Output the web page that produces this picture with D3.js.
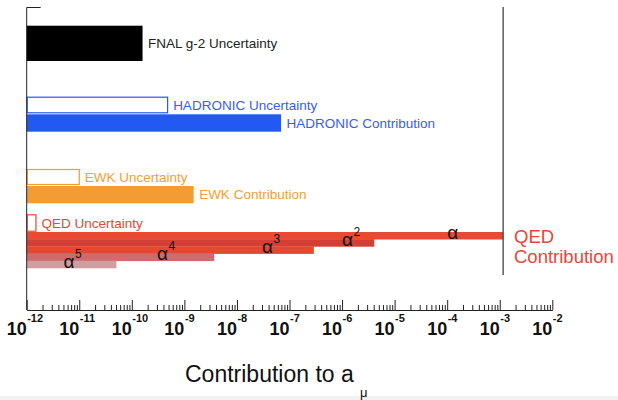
<!DOCTYPE html>
<html>
<head>
<meta charset="utf-8">
<script src="https://cdn.jsdelivr.net/npm/d3@7"></script>
<style>
  html, body { margin: 0; padding: 0; background: #fff; }
  svg { display: block; }
  text { font-family: "Liberation Sans", Arial, Helvetica, sans-serif; }
</style>
</head>
<body>
<div id="chart"></div>
<script>
// Contributions to the muon anomalous magnetic moment (log scale)
const uncertaintyNames = ["FNAL g-2 Uncertainty", "HADRONIC Uncertainty", "EWK Uncertainty", "QED Uncertainty"];
const uncertaintyValues = [1.6e-10, 4.8e-10, 1.0e-11, 1.5e-12];

const contributionNames = ["HADRONIC Contribution", "EWK Contribution"];
const contributionValues = [6.9e-8, 1.5e-9];

// QED perturbative orders alpha^1 .. alpha^5
const qedOrders = [1, 2, 3, 4, 5];
const qedValues = [1.16e-3, 4.1e-6, 2.9e-7, 3.7e-9, 5.1e-11];
const qedLabelAt = [1e-4, 1e-6, 3e-8, 3e-10, 5e-12];

const tickExponents = [-12, -11, -10, -9, -8, -7, -6, -5, -4, -3, -2];

const W = 618, H = 400;
const svg = d3.select("#chart").append("svg").attr("width", W).attr("height", H);

// faint strip along the bottom edge
svg.append("rect").attr("x", 0).attr("y", 396).attr("width", W).attr("height", 4).attr("fill", "#f2f2f2");

const x = d3.scaleLog().domain([1e-12, 1e-2]).range([26.7, 552.3]);
const axisY = 310, axisTop = 7.5;

const colors = {
  fnal: "#000000",
  had: "#2159f2", hadText: "#3a5cf0",
  ewk: "#f39c34", ewkText: "#f3a033",
  qed: "#e8463a"
};
const qedColors = ["#e94a34", "#d33f34", "#e6472f", "#cf6b6d", "#d39c9e"];

// rows: [top, bottom]
const uncRows = [[25.7, 61], [96.7, 113.3], [169, 185], [214.3, 231.7]];
const conRows = [[114.3, 131.7], [186, 203.3]];
const uncStyle = [
  { fill: colors.fnal, stroke: "none", text: "#222" },
  { fill: "#fff", stroke: colors.had, text: colors.hadText },
  { fill: "#fff", stroke: colors.ewk, text: colors.ewkText },
  { fill: "#fff", stroke: colors.qed, text: colors.qed }
];
const conStyle = [
  { fill: colors.had, text: colors.hadText },
  { fill: colors.ewk, text: colors.ewkText }
];

const x0 = x(1e-12);

// uncertainty bars
uncertaintyValues.forEach((v, i) => {
  const [t, b] = uncRows[i];
  const s = uncStyle[i];
  const outline = s.stroke !== "none";
  svg.append("rect")
    .attr("x", x0 + (outline ? 0.5 : 0))
    .attr("y", t + (outline ? 0.5 : 0))
    .attr("width", x(v) - x0 - (outline ? 0.5 : 0))
    .attr("height", b - t - (outline ? 1 : 0))
    .attr("fill", s.fill)
    .attr("stroke", s.stroke)
    .attr("stroke-width", 1.2);
  svg.append("text")
    .attr("x", x(v) + 5.5)
    .attr("y", (t + b) / 2 + 4.5)
    .attr("font-size", 13.5)
    .attr("fill", s.text)
    .text(uncertaintyNames[i]);
});

// contribution bars
contributionValues.forEach((v, i) => {
  const [t, b] = conRows[i];
  svg.append("rect")
    .attr("x", x0).attr("y", t)
    .attr("width", x(v) - x0).attr("height", b - t)
    .attr("fill", conStyle[i].fill);
  svg.append("text")
    .attr("x", x(v) + 5.5)
    .attr("y", (t + b) / 2 + 4.5)
    .attr("font-size", 13.5)
    .attr("fill", conStyle[i].text)
    .text(contributionNames[i]);
});

// QED orders as stacked thin bands
const qedTop = 232, bandH = 7.2;
qedValues.forEach((v, i) => {
  svg.append("rect")
    .attr("x", x0).attr("y", qedTop + i * bandH)
    .attr("width", x(v) - x0).attr("height", bandH + 0.3)
    .attr("fill", qedColors[i]);
});
qedOrders.forEach((n, i) => {
  const bx = x(qedLabelAt[i]);
  const by = qedTop + (i + 1) * bandH - 0.5;
  const g = svg.append("text")
    .attr("x", bx).attr("y", by)
    .attr("font-family", "'Liberation Serif', 'Times New Roman', serif")
    .attr("font-size", 19)
    .attr("fill", "#111");
  g.append("tspan").text("\u03b1");
  if (n > 1) {
    g.append("tspan")
      .attr("dx", 0.5).attr("dy", -10)
      .attr("font-size", 12)
      .text(n);
  }
});

// QED total marker line
svg.append("line")
  .attr("x1", x(qedValues[0])).attr("x2", x(qedValues[0]))
  .attr("y1", 7).attr("y2", 275)
  .attr("stroke", "#444").attr("stroke-width", 1.3);

svg.append("text")
  .attr("x", 514).attr("y", 243.3)
  .attr("font-size", 18.5).attr("fill", colors.qed)
  .text("QED");
svg.append("text")
  .attr("x", 514).attr("y", 262.7)
  .attr("font-size", 18.5).attr("fill", colors.qed)
  .text("Contribution");

// vertical axis frame
svg.append("line")
  .attr("x1", x0).attr("x2", x0).attr("y1", axisTop).attr("y2", axisY)
  .attr("stroke", "#222").attr("stroke-width", 1);
svg.append("line")
  .attr("x1", x0).attr("x2", x0 + 14).attr("y1", axisTop).attr("y2", axisTop)
  .attr("stroke", "#222").attr("stroke-width", 1);

// x axis with log ticks pointing up
const minorTicks = [];
for (let e = -12; e < -2; e++) {
  for (let m = 2; m <= 9; m++) minorTicks.push(m * Math.pow(10, e));
}
const majorTicks = tickExponents.map(e => Math.pow(10, e));

const axisG = svg.append("g").attr("transform", `translate(0,${axisY})`);
axisG.call(d3.axisTop(x).tickValues(minorTicks).tickSize(5).tickFormat(""))
  .call(g => g.select(".domain").remove());
const majorG = svg.append("g").attr("transform", `translate(0,${axisY})`);
majorG.call(d3.axisTop(x).tickValues(majorTicks).tickSize(10).tickSizeOuter(0).tickFormat(""));
svg.selectAll(".tick line").attr("stroke", "#222");
majorG.select(".domain").attr("stroke", "#222");

// tick labels: 10 with superscript exponent
const lbl = svg.append("g");
tickExponents.forEach(e => {
  const tx = x(Math.pow(10, e));
  lbl.append("text")
    .attr("x", tx).attr("y", 335)
    .attr("text-anchor", "end")
    .attr("font-size", 18).attr("font-weight", "bold")
    .attr("fill", "#111")
    .text("10");
  lbl.append("text")
    .attr("x", tx + 0.5).attr("y", 322)
    .attr("font-size", 11).attr("font-weight", "bold")
    .attr("fill", "#111")
    .text(String(e));
});

// axis title
svg.append("text")
  .attr("x", 185).attr("y", 382)
  .attr("font-size", 23).attr("fill", "#111")
  .text("Contribution to a");
svg.append("text")
  .attr("x", 360).attr("y", 396.5)
  .attr("font-size", 13).attr("fill", "#111")
  .text("\u03bc");
</script>
</body>
</html>
